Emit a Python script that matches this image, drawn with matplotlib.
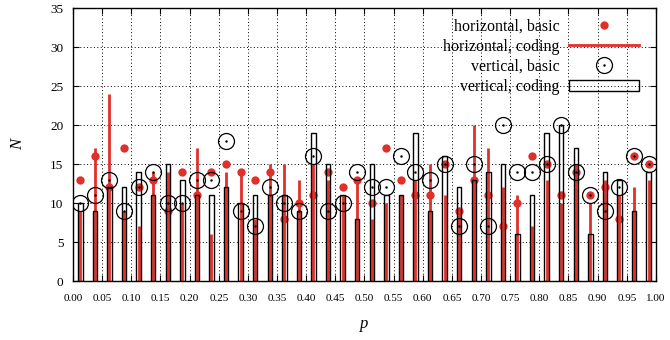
import numpy as np
import matplotlib.pyplot as plt
from matplotlib.legend_handler import HandlerTuple

plt.rcParams['font.family'] = ['Liberation Serif', 'DejaVu Serif']

# p positions (40 bins, centre of each 0.025 wide bin)
p = np.arange(40) * 0.025 + 0.0125

# horizontal, basic (red dots)
h_basic = [13, 16, 12, 17, 12, 13, 9, 14, 11, 14,
           15, 14, 13, 14, 8, 10, 11, 14, 12, 13,
           10, 17, 13, 11, 11, 15, 9, 13, 11, 7,
           10, 16, 15, 11, 14, 11, 12, 8, 16, 15]
# horizontal, coding (red impulses)
h_coding = [9, 17, 24, 9, 7, 14, 14, 10, 17, 6,
            14, 14, 8, 15, 15, 13, 15, 13, 11, 13,
            8, 10, 11, 13, 15, 11, 9, 20, 17, 12,
            11, 7, 13, 10, 15, 10, 13, 11, 12, 13]
# vertical, basic (open circles)
v_basic = [10, 11, 13, 9, 12, 14, 10, 10, 13, 13,
           18, 9, 7, 12, 10, 9, 16, 9, 10, 14,
           12, 12, 16, 14, 13, 15, 7, 15, 7, 20,
           14, 14, 15, 20, 14, 11, 9, 12, 16, 15]
# vertical, coding (empty boxes)
v_coding = [10, 9, 12, 12, 14, 11, 15, 13, 11, 11,
            12, 10, 11, 11, 11, 9, 19, 15, 11, 8,
            15, 11, 11, 19, 9, 16, 12, 13, 14, 15,
            6, 11, 19, 20, 17, 6, 14, 13, 9, 14]

red = '#e0302a'

fig = plt.figure(figsize=(6.7, 3.4), dpi=100)
ax = fig.add_axes([0.109, 0.1735, 0.870, 0.8025])

hb = ax.plot(p, h_basic, 'o', color=red, ms=6, mec='none', zorder=4)[0]
hc = ax.vlines(p, 0, h_coding, color=red, lw=2, zorder=3)
hc_leg = plt.Line2D([], [], color=red, lw=2)
vb1 = ax.plot(p, v_basic, 'o', mfc='none', mec='black', ms=11.5, mew=0.9, zorder=5)[0]
vb2 = ax.plot(p, v_basic, '.', color='black', ms=1.5, zorder=5)[0]
vc = ax.bar(p, v_coding, width=0.0075, fill=False, edgecolor='black', lw=1, zorder=4)

ax.set_xlim(0, 1)
ax.set_ylim(0, 35)
ax.set_xticks(np.arange(0, 1.0001, 0.05))
ax.set_xticklabels(['%.2f' % v for v in np.arange(0, 1.0001, 0.05)], fontsize=8)
ax.set_yticks(np.arange(0, 36, 5))
ax.tick_params(axis='y', labelsize=9.5, pad=7)
ax.tick_params(axis='x', pad=9)
ax.tick_params(direction='in', top=True, right=True, length=4, width=0.8)
ax.grid(True, color='black', linestyle=(0, (1, 2.5)), lw=0.7)
ax.set_axisbelow(True)
for s in ax.spines.values():
    s.set_linewidth(1.0)

ax.set_xlabel('p', fontstyle='italic', fontsize=12, labelpad=10)
ax.set_ylabel('N', fontstyle='italic', fontsize=12, labelpad=17, rotation=90)

leg = ax.legend([hb, hc_leg, (vb1, vb2), vc],
                ['horizontal, basic', 'horizontal, coding', 'vertical, basic', 'vertical, coding'],
                handler_map={tuple: HandlerTuple(ndivide=1)},
                loc='upper right', bbox_to_anchor=(0.985, 0.99), frameon=False,
                markerfirst=False, fontsize=11.5, handlelength=4.4, handletextpad=0.6,
                labelspacing=0.25, borderpad=0)

plt.savefig('out.png', dpi=100)
